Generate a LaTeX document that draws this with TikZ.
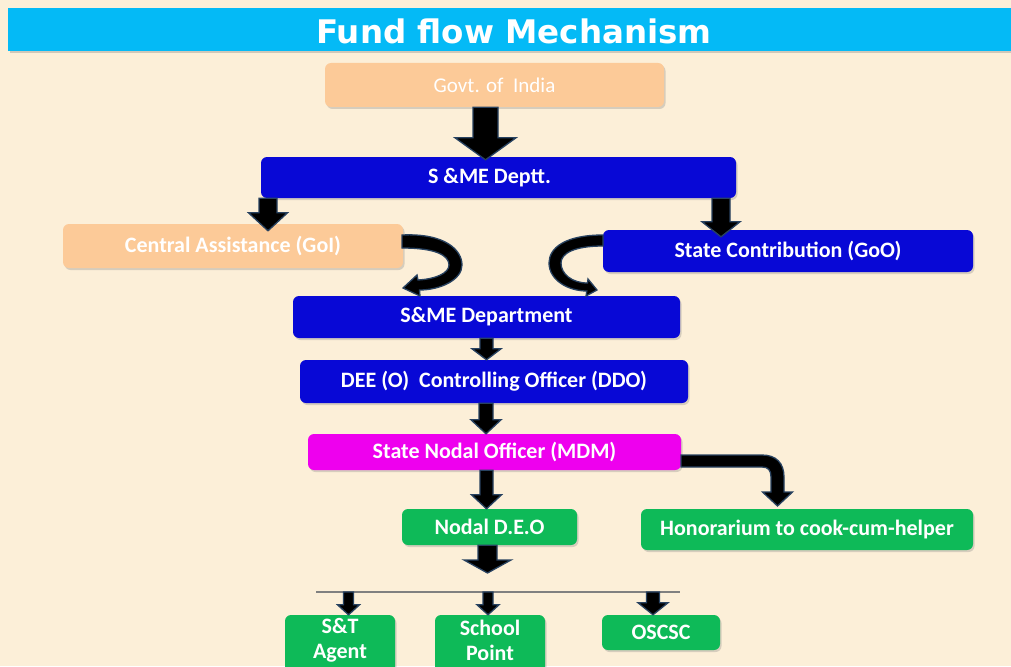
\documentclass[tikz,border=0pt]{standalone}
\usepackage{fontspec}
\setmainfont{Carlito}
\newfontfamily\titlefont{DejaVu Sans}
\usetikzlibrary{shadows,calc}
\definecolor{bgc}{RGB}{252,239,216}
\definecolor{titlec}{RGB}{4,186,246}
\definecolor{peach}{RGB}{252,202,152}
\definecolor{bluebox}{RGB}{8,8,214}
\definecolor{magbox}{RGB}{238,0,238}
\definecolor{greenbox}{RGB}{14,186,88}
\definecolor{arrowline}{RGB}{40,66,96}
\definecolor{barc}{RGB}{128,128,128}
\newcommand\varrow[7]{% x, from, to, half shaft, half head, head length, tip overlap
  \draw[blockarrow] let \p1=(#1,0 |- #2), \p2=(#1,0 |- #3) in
  ({\x1-#4},\y1) -- ({\x1+#4},\y1) -- ({\x1+#4},{\y2-(#7)+#6}) -- ({\x1+#5},{\y2-(#7)+#6})
  -- (\x1,{\y2-(#7)}) -- ({\x1-#5},{\y2-(#7)+#6}) -- ({\x1-#4},{\y2-(#7)+#6}) -- cycle;}
\begin{document}
\begin{tikzpicture}[x=1pt,y=-1pt,
  box/.style={rounded corners=6pt, inner sep=0pt, text=white,
    font=\fontsize{22}{25}\selectfont\bfseries,
    drop shadow={shadow xshift=1.5pt,shadow yshift=-2pt,opacity=0.3}},
  boxtext/.style={text=white, font=\fontsize{22}{25}\selectfont\bfseries, align=center, inner sep=0pt},
  blockarrow/.style={fill=black, draw=arrowline, line width=1.3pt, line join=miter},
  barline/.style={draw=barc, line width=1.5pt}]
\useasboundingbox (0,0) rectangle (1011,666);
\clip (0,0) rectangle (1011,666);
\fill[bgc] (0,0) rectangle (1011,666);
% title
\node[fill=titlec, minimum width=1022pt, minimum height=43pt, inner sep=0pt,
  drop shadow={shadow xshift=1.5pt,shadow yshift=-2.5pt,opacity=0.35}] (title) at (519,29.5) {};
\node[text=white, font=\fontsize{32.5}{36}\titlefont\bfseries, inner sep=0pt] (titletext) at (514,31) {Fund flow Mechanism};
% boxes
\node[box, fill=peach, minimum width=339pt, minimum height=44pt, font=\fontsize{21}{24}\selectfont] (gov) at (494.5,85) {Govt. of\ \ India};
\node[box, fill=bluebox, minimum width=475pt, minimum height=41pt] (sme1) at (498.5,177.5) {\hspace*{-18pt}S \&ME Deptt.};
\node[box, fill=peach, minimum width=340pt, minimum height=44pt] (ca) at (233,246) {Central Assistance (GoI)};
\node[box, fill=bluebox, minimum width=370pt, minimum height=42pt] (sc) at (788,251) {State Contribution (GoO)};
\node[box, fill=bluebox, minimum width=387pt, minimum height=42pt] (sme2) at (486.5,317) {S\&ME Department};
\node[box, fill=bluebox, minimum width=388pt, minimum height=43pt] (dee) at (494,381.5) {DEE (O)\ \ Controlling Officer (DDO)};
\node[box, fill=magbox, minimum width=373pt, minimum height=36pt] (sno) at (494.5,452) {State Nodal Officer (MDM)};
\node[box, fill=greenbox, minimum width=175pt, minimum height=36pt] (deo) at (489.5,527) {Nodal D.E.O};
\node[box, fill=greenbox, minimum width=332pt, minimum height=41pt] (hon) at (807,529.5) {Honorarium to cook-cum-helper};
\node[box, fill=greenbox, minimum width=110pt, minimum height=64pt] (st) at (340,647) {};
\node[boxtext] (sttext) at (340,640.5) {S\&T\\Agent};
\node[box, fill=greenbox, minimum width=110pt, minimum height=64pt] (sp) at (490,647) {};
\node[boxtext] (sptext) at (490,640.5) {School\\Point};
\node[box, fill=greenbox, minimum width=118pt, minimum height=35pt] (osc) at (661,632.5) {OSCSC};
% distribution bar
\coordinate (barL) at (316,592);
\coordinate (barR) at (680,592);
\draw[barline] (barL) -- (barR);
% straight block arrows
\varrow{485.5}{gov.south}{sme1.north}{12.5pt}{30.5pt}{22pt}{3pt}
\varrow{268}{sme1.south}{ca.north}{9pt}{19.5pt}{18pt}{7pt}
\varrow{721}{sme1.south}{sc.north}{9pt}{19pt}{15pt}{7pt}
\varrow{486.5}{sme2.south}{dee.north}{6.5pt}{14.5pt}{11pt}{0pt}
\varrow{486}{dee.south}{sno.north}{7pt}{15pt}{14pt}{0pt}
\varrow{486.5}{sno.south}{deo.north}{6.5pt}{15pt}{14pt}{0pt}
\varrow{487.5}{deo.south}{barL}{9.5pt}{23.5pt}{13pt}{-19pt}
\varrow{348.5}{barL}{st.north}{5pt}{11pt}{10pt}{0pt}
\varrow{488}{barL}{sp.north}{5pt}{11pt}{10pt}{0pt}
\varrow{653}{barL}{osc.north}{6.5pt}{15pt}{12pt}{0pt}
% curved arrow: Central Assistance -> S&ME Department
\draw[blockarrow] (402,235) .. controls (445,233) and (462,250) .. (462,265)
  .. controls (462,280) and (440,290) .. (419.5,290) -- (420,296) -- (403,288)
  -- (417,275) -- (418,280) .. controls (436,279) and (449,273) .. (449,265)
  .. controls (449,255) and (435,248) .. (402,248) -- cycle;
% curved arrow: State Contribution -> S&ME Department
\draw[blockarrow] (603,235) .. controls (565,235) and (549,248) .. (549,263)
  .. controls (549,280) and (568,291) .. (586.8,291) -- (586,296) -- (597,290)
  -- (588,279) -- (587.5,283) .. controls (572,283) and (561,274) .. (561,263)
  .. controls (561,253) and (575,246) .. (603,246) -- cycle;
% elbow arrow: State Nodal Officer -> Honorarium
\draw[blockarrow] (681,455) -- (762,455) .. controls (776,455) and (784,463) .. (784,477)
  -- (784,492) -- (792.5,492) -- (777.5,506) -- (762.5,492) -- (771,492) -- (771,477)
  .. controls (771,470) and (768,467) .. (762,467) -- (681,467) -- cycle;
\end{tikzpicture}
\end{document}
